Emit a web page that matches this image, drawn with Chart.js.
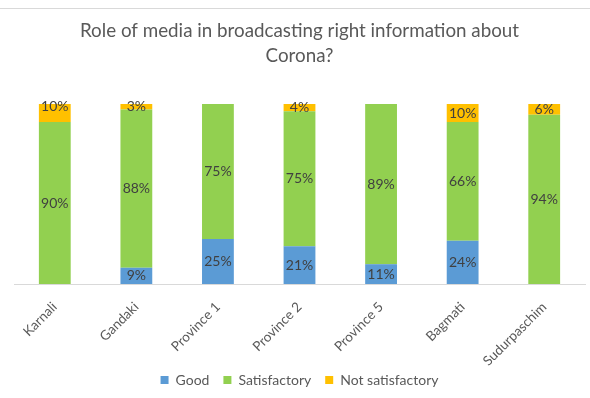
<!DOCTYPE html>
<html>
<head>
<meta charset="utf-8">
<script src="https://cdn.jsdelivr.net/npm/chart.js@4.4.1/dist/chart.umd.min.js"></script>
<style>
  html, body { margin: 0; padding: 0; background: #ffffff; }
  #wrap { width: 590px; height: 398px; position: relative; }
  #topline { position: absolute; left: 0; top: 8px; width: 590px; height: 1px; background: #d9d9d9; }
</style>
</head>
<body>
<div id="wrap">
  <div id="topline"></div>
  <canvas id="chart" width="590" height="398"></canvas>
</div>
<script>
const provinces = ['Karnali', 'Gandaki', 'Province 1', 'Province 2', 'Province 5', 'Bagmati', 'Sudurpaschim'];
const good = [0, 9, 25, 21, 11, 24, 0];
const satisfactory = [90, 88, 75, 75, 89, 66, 94];
const notSatisfactory = [10, 3, 0, 4, 0, 10, 6];

const FONT = 'Lato, "Open Sans", sans-serif';

// Writes each segment's percentage in the middle of its bar piece
const segmentLabels = {
  id: 'segmentLabels',
  afterDatasetsDraw(chart) {
    const ctx = chart.ctx;
    ctx.save();
    ctx.font = '14px ' + FONT;
    ctx.fillStyle = '#404040';
    ctx.textAlign = 'center';
    ctx.textBaseline = 'middle';
    chart.data.datasets.forEach((ds, di) => {
      const meta = chart.getDatasetMeta(di);
      const shift = ds.labelShift || [];
      meta.data.forEach((bar, i) => {
        const v = ds.data[i];
        if (!v) return;
        const y = (bar.y + bar.base) / 2 + (shift[i] || 0);
        ctx.fillText(v + '%', bar.x, y);
      });
    });
    ctx.restore();
  }
};

new Chart(document.getElementById('chart'), {
  type: 'bar',
  data: {
    labels: provinces,
    datasets: [
      { label: 'Good', data: good, backgroundColor: '#5B9BD5' },
      { label: 'Satisfactory', data: satisfactory, backgroundColor: '#92D050' },
      { label: 'Not satisfactory', data: notSatisfactory, backgroundColor: '#FFC000',
        labelShift: [-7, 0, 0, 0, 0, 0, 0] }
    ]
  },
  options: {
    responsive: false,
    animation: false,
    devicePixelRatio: 1,
    layout: { padding: { left: 14, right: 5, top: 12, bottom: 1 } },
    datasets: {
      bar: { categoryPercentage: 1, barPercentage: 0.39, borderWidth: 0 }
    },
    scales: {
      x: {
        stacked: true,
        grid: { display: false, drawTicks: false },
        border: { display: true, color: '#d9d9d9', width: 1 },
        ticks: {
          minRotation: 45, maxRotation: 45, padding: 15,
          color: '#595959', font: { family: FONT, size: 13.5 }
        },
        afterFit(scale) {
          scale.height = 75;
          // long rotated names may run past the axis box; keep them unclipped
          scale._computeLabelArea = () => undefined;
        }
      },
      y: {
        stacked: true, min: 0, max: 100, display: false
      }
    },
    plugins: {
      title: {
        display: true,
        text: ['Role of media in broadcasting right information about', 'Corona?'],
        color: '#595959',
        font: { family: FONT, size: 18.8, weight: 'normal', lineHeight: 1.33 },
        padding: { top: 6.5, bottom: 35.5 }
      },
      legend: {
        position: 'bottom',
        labels: {
          boxWidth: 8, boxHeight: 8, padding: 14,
          color: '#595959', font: { family: FONT, size: 14 }
        }
      },
      tooltip: { enabled: false }
    }
  },
  plugins: [segmentLabels]
});
</script>
</body>
</html>
